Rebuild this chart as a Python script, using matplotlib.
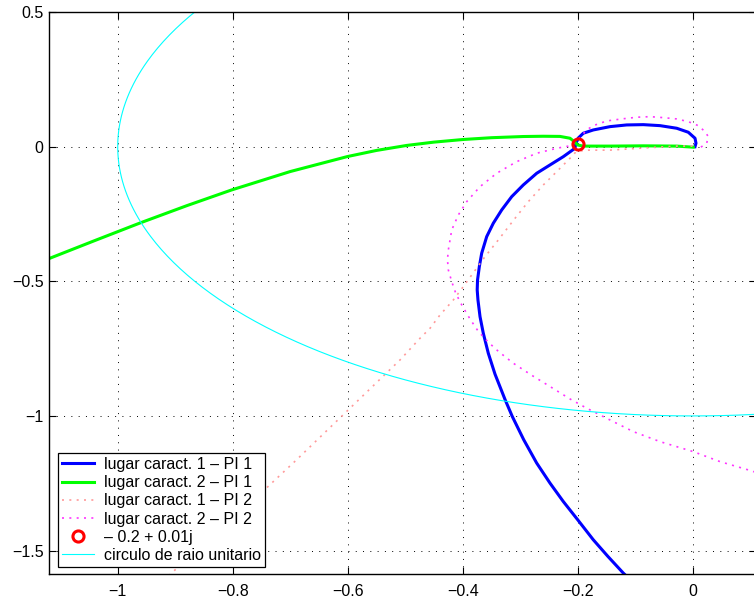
import numpy as np
import matplotlib
matplotlib.use("Agg")
import matplotlib.pyplot as plt

plt.rcParams['font.family'] = ['Liberation Sans', 'DejaVu Sans']

# lugar caract. 1 - PI 1 (blue)
b_x = [-0.089, -0.1208, -0.1475, -0.1730, -0.2001, -0.2252, -0.2483, -0.2714, -0.2940, -0.3138,
       -0.3263, -0.3438, -0.3555, -0.3642, -0.3699, -0.3735, -0.3748, -0.3742, -0.3711, -0.3670,
       -0.3583, -0.3468, -0.3322, -0.3148, -0.2946, -0.2713, -0.2482, -0.2250, -0.2047, -0.2035,
       -0.1990, -0.1903, -0.1729, -0.1438, -0.1148, -0.0859, -0.0569, -0.0278, -0.0077, 0.0040,
       0.0057, 0.0040]
b_y = [-1.650, -1.5834, -1.5217, -1.4597, -1.3854, -1.3175, -1.2492, -1.1749, -1.0880, -1.0019,
       -0.9395, -0.8450, -0.7672, -0.6929, -0.6313, -0.5693, -0.5321, -0.4950, -0.4456, -0.3958,
       -0.3342, -0.2844, -0.2351, -0.1857, -0.1422, -0.0988, -0.0680, -0.0371, -0.0060, 0.0100,
       0.0320, 0.0498, 0.0620, 0.0743, 0.0806, 0.0817, 0.0780, 0.0683, 0.0535, 0.0312,
       0.0126, 0.0000]

# lugar caract. 2 - PI 1 (green)
g_x = [-1.200, -1.1177, -1.040, -0.960, -0.880, -0.8022, -0.700, -0.6003, -0.550, -0.4974,
       -0.450, -0.399, -0.350, -0.2946, -0.260, -0.2308, -0.2134, -0.2047, -0.2000, -0.1903,
       -0.1438, -0.0859, -0.0278, 0.0010]
g_y = [-0.4842, -0.4142, -0.3489, -0.2825, -0.2193, -0.1610, -0.0925, -0.0367, -0.0141, 0.0045,
       0.0168, 0.0266, 0.0332, 0.0376, 0.0386, 0.0380, 0.0312, 0.0163, 0.0060, 0.0020,
       0.0020, 0.0030, 0.0020, -0.0020]

# lugar caract. 1 - PI 2 (light red, dotted)
p_x = [-0.930, -0.903, -0.740, -0.689, -0.509, -0.474, -0.4568, -0.4395, -0.4163, -0.3990,
       -0.3843, -0.3612, -0.3381, -0.3090, -0.2859, -0.2598, -0.2365, -0.2077, -0.2035, -0.1950,
       -0.1815, -0.1438, -0.0859, -0.0278, 0.0000]
p_y = [-1.630, -1.577, -1.265, -1.163, -0.792, -0.711, -0.6744, -0.6250, -0.5693, -0.5199,
       -0.4764, -0.4085, -0.3465, -0.2660, -0.2042, -0.1422, -0.0928, -0.0308, -0.0200, -0.0160,
       -0.0130, -0.0130, -0.0050, 0.0020, 0.0020]

# lugar caract. 2 - PI 2 (magenta, dotted)
m_x = [0.150, 0.0967, 0.0475, 0.0010, -0.0569, -0.1033, -0.1555, -0.1843, -0.2134, -0.2480,
       -0.2800, -0.3120, -0.3381, -0.3555, -0.3729, -0.3873, -0.4017, -0.4120, -0.4191, -0.4250,
       -0.4265, -0.4250, -0.4191, -0.4076, -0.3930, -0.3699, -0.3409, -0.3061, -0.2713, -0.2365,
       -0.2134, -0.2000, -0.1843, -0.1729, -0.1496, -0.1235, -0.0974, -0.0743, -0.0511, -0.0278,
       -0.0077, 0.0097, 0.0214, 0.0271, 0.0243, 0.0127]
m_y = [-1.237, -1.2005, -1.1697, -1.1326, -1.0954, -1.0583, -1.0026, -0.9714, -0.9370, -0.8910,
       -0.8490, -0.8043, -0.7600, -0.7260, -0.6860, -0.6400, -0.5878, -0.5450, -0.5013, -0.4579,
       -0.4200, -0.3836, -0.3093, -0.2536, -0.2042, -0.1485, -0.0988, -0.0557, -0.0245, -0.0060,
       0.0030, 0.0250, 0.0620, 0.0780, 0.0954, 0.1029, 0.1092, 0.1114, 0.1077, 0.1029,
       0.0928, 0.0780, 0.0557, 0.0371, 0.0126, -0.0040]

# ponto -0.2 + 0.01j
pt_re, pt_im = -0.2, 0.01

# circulo de raio unitario
raio = 1.0

labels = ['lugar caract. 1 – PI 1', 'lugar caract. 2 – PI 1',
          'lugar caract. 1 – PI 2', 'lugar caract. 2 – PI 2',
          '– 0.2 + 0.01j', 'circulo de raio unitario']

xticks = [-1, -0.8, -0.6, -0.4, -0.2, 0]
xticklabels = ['−1', '−0.8', '−0.6', '−0.4', '−0.2', '0']
yticks = [-1.5, -1, -0.5, 0, 0.5]
yticklabels = ['−1.5', '−1', '−0.5', '0', '0.5']

W, H = 754, 599
fig = plt.figure(figsize=(W / 100, H / 100), dpi=100)
xlim = (-1.1195, 0.11)
ax = fig.add_axes([49 / W, 25 / H, (xlim[1] - xlim[0]) * 575 / W, 562 / H])

ax.plot(b_x, b_y, color=(0, 0, 1), lw=2.2, label=labels[0])
ax.plot(g_x, g_y, color=(0, 1, 0), lw=2.2, label=labels[1])
ax.plot(p_x, p_y, color='#ff9a9a', lw=1.2, ls=(0, (1.2, 3.2)), label=labels[2])
ax.plot(m_x, m_y, color='#ff33ff', lw=1.2, ls=(0, (1.2, 3.2)), label=labels[3])
ax.plot([pt_re], [pt_im], 'o', mfc='none', mec='red', mew=2.2, ms=8, label=labels[4])
th = np.linspace(0, 2 * np.pi, 721)
ax.plot(raio * np.cos(th), raio * np.sin(th), color=(0, 1, 1), lw=0.8, label=labels[5])

ax.set_xlim(xlim)
ax.set_ylim(-1.587, 0.5)
ax.set_xticks(xticks)
ax.set_xticklabels(xticklabels)
ax.set_yticks(yticks)
ax.set_yticklabels(yticklabels)
ax.tick_params(direction='in', length=5, width=0.8, top=True, right=True, labelsize=11.5)
ax.tick_params(axis='x', pad=7)
ax.tick_params(axis='y', pad=4)
ax.grid(True, color='k', lw=0.7, ls=(0, (1, 6.5)))
for s in ax.spines.values():
    s.set_linewidth(1.0)

leg = ax.legend(loc='lower left', bbox_to_anchor=(9 / 705, 7 / 562), borderaxespad=0,
                fontsize=11.5, handlelength=2.0, handletextpad=0.6, labelspacing=0.2,
                borderpad=0.25, fancybox=False, framealpha=1, edgecolor='k', numpoints=1)
leg.get_frame().set_linewidth(0.9)

fig.savefig('out.png', dpi=100)
